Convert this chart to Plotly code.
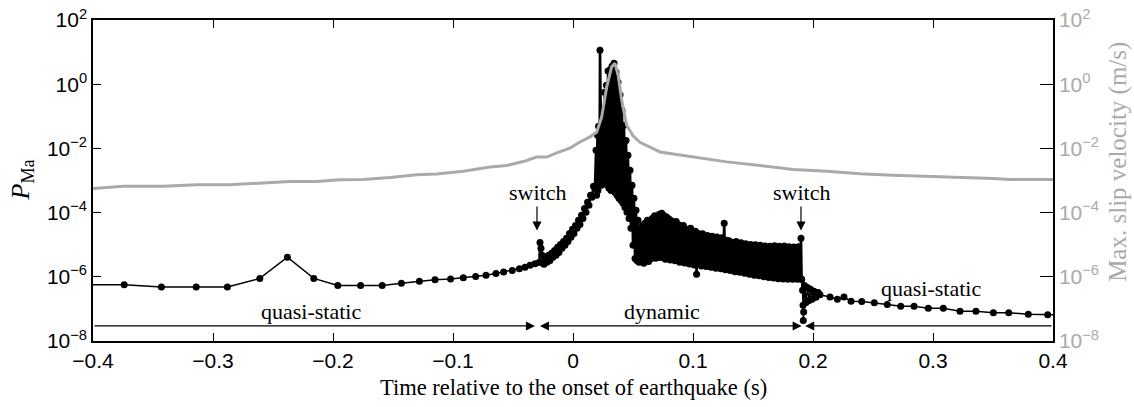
import plotly.graph_objects as go

# ---------------------------------------------------------------------------
# P_Ma (log10 values), split by solver phase
# ---------------------------------------------------------------------------
# quasi-static phase before the earthquake (last sample = switch point)
t_qs_before = [-0.41, -0.374, -0.343, -0.314, -0.288, -0.261, -0.238, -0.216,
               -0.196, -0.177, -0.159, -0.143, -0.128, -0.115, -0.102, -0.0914,
               -0.0811, -0.0725, -0.0642, -0.0578, -0.0506, -0.0447, -0.040,
               -0.0358, -0.0317, -0.0279]
log_p_qs_before = [-6.25, -6.25, -6.32, -6.32, -6.32, -6.05, -5.39, -6.05,
                   -6.27, -6.27, -6.27, -6.20, -6.14, -6.09, -6.07, -6.03,
                   -5.99, -5.95, -5.90, -5.85, -5.80, -5.75, -5.70,
                   -5.64, -5.59, -5.55]

# dynamic phase: nucleation, main rupture, and the oscillating aftermath
t_dynamic = [
    -0.0279, -0.0275, -0.0267, -0.0258, -0.0250, -0.0242, -0.0229, -0.0217, -0.0204, -0.0192,
    -0.0179, -0.0167, -0.0154, -0.0142, -0.0129, -0.0117, -0.0104, -0.0092, -0.0079, -0.0067,
    -0.0054, -0.0042, -0.0029, -0.0017, -0.0004, 0.0008, 0.0021, 0.0033, 0.0046, 0.0058,
    0.0071, 0.0083, 0.0096, 0.0108, 0.0121, 0.0133, 0.0146, 0.0158, 0.0171, 0.0183,
    0.0192, 0.0196, 0.0204, 0.0208, 0.0213, 0.0221, 0.0225, 0.0229, 0.0238, 0.0246,
    0.0254, 0.0263, 0.0271, 0.0279, 0.0288, 0.0292, 0.0300, 0.0308, 0.0317, 0.0325,
    0.0333, 0.0342, 0.0350, 0.0358, 0.0367, 0.0375, 0.0383, 0.0392, 0.0400, 0.0408,
    0.0417, 0.0425, 0.0433, 0.0442, 0.0450, 0.0458, 0.0467, 0.0475, 0.0483, 0.0492,
    0.0500, 0.0508, 0.0517, 0.0525, 0.0533, 0.0542,
    0.055, 0.056, 0.057, 0.058, 0.059, 0.060, 0.061, 0.062, 0.063, 0.064,
    0.065, 0.066, 0.067, 0.068, 0.069, 0.070, 0.071, 0.072, 0.073, 0.074,
    0.075, 0.076, 0.077, 0.078, 0.079, 0.080, 0.081, 0.082, 0.083, 0.084,
    0.085, 0.086, 0.087, 0.088, 0.089, 0.090, 0.091, 0.092, 0.093, 0.094,
    0.095, 0.096, 0.097, 0.098, 0.099, 0.100, 0.101, 0.102, 0.103, 0.104,
    0.105, 0.106, 0.107, 0.108, 0.109, 0.110, 0.111, 0.112, 0.113, 0.114,
    0.115, 0.116, 0.117, 0.118, 0.119, 0.120, 0.121, 0.122, 0.123, 0.124,
    0.125, 0.126, 0.127, 0.128, 0.129, 0.130, 0.131, 0.132, 0.133, 0.134,
    0.135, 0.136, 0.137, 0.138, 0.139, 0.140, 0.141, 0.142, 0.143, 0.144,
    0.145, 0.146, 0.147, 0.148, 0.149, 0.150, 0.151, 0.152, 0.153, 0.154,
    0.155, 0.156, 0.157, 0.158, 0.159, 0.160, 0.161, 0.162, 0.163, 0.164,
    0.165, 0.166, 0.167, 0.168, 0.169, 0.170, 0.171, 0.172, 0.173, 0.174,
    0.175, 0.176, 0.177, 0.178, 0.179, 0.180, 0.181, 0.182, 0.183, 0.184,
    0.185, 0.186, 0.187, 0.188, 0.189, 0.190, 0.1905,
]
log_p_dynamic = [
    -5.55, -4.93, -5.11, -5.33, -5.55, -5.61, -5.39, -5.55, -5.33, -5.49,
    -5.27, -5.39, -5.18, -5.33, -5.08, -5.24, -4.99, -5.11, -4.90, -5.02,
    -4.80, -4.90, -4.65, -4.77, -4.52, -4.65, -4.40, -4.49, -4.24, -4.37,
    -4.08, -4.18, -3.87, -3.99, -3.68, -3.77, -3.46, -3.52, -3.18, -3.24,
    -2.06, -3.46, -1.59, -3.31, -1.31, -3.15, 1.06, -1.43, -3.15, -0.81,
    -3.06, -0.25, -2.99, -0.03, -3.15, 0.41, -3.24, 0.44, -3.31, 0.56,
    -3.31, 0.65, -3.37, 0.37, -3.46, 0.06, -3.55, -0.34, -3.62, -0.81,
    -3.71, -1.28, -3.84, -1.75, -3.99, -2.21, -4.18, -2.68, -4.49, -3.15,
    -5.02, -3.55, -5.43, -3.93, -5.49, -4.24,
    -5.55, -4.52, -5.50, -4.40, -5.58, -4.33, -5.46, -4.24, -5.52, -4.30,
    -5.44, -4.18, -5.36, -4.10, -5.42, -4.15, -5.33, -4.05, -5.40, -4.02,
    -5.36, -4.10, -5.45, -4.14, -5.38, -4.20, -5.48, -4.25, -5.41, -4.31,
    -5.50, -4.28, -5.46, -4.38, -5.55, -4.43, -5.50, -4.40, -5.57, -4.51,
    -5.49, -4.55, -5.60, -4.49, -5.54, -4.60, -5.63, -4.58, -5.92, -4.64,
    -5.57, -4.70, -5.66, -4.66, -5.60, -4.74, -5.68, -4.71, -5.62, -4.78,
    -5.70, -4.74, -5.65, -4.80, -5.73, -4.76, -5.68, -4.82, -5.75, -4.78,
    -5.70, -4.33, -5.78, -4.86, -5.72, -4.88, -5.80, -4.92, -5.76, -4.95,
    -5.84, -4.90, -5.79, -4.98, -5.86, -4.94, -5.81, -5.00, -5.89, -4.97,
    -5.84, -5.03, -5.92, -4.99, -5.88, -5.05, -5.95, -5.00, -5.90, -5.07,
    -5.97, -5.02, -5.93, -5.08, -6.00, -5.04, -5.95, -5.10, -6.02, -5.05,
    -5.97, -5.09, -6.04, -5.03, -6.00, -5.08, -6.06, -5.05, -6.01, -5.10,
    -6.07, -5.04, -6.03, -5.09, -6.08, -5.06, -6.04, -5.11, -6.08, -5.07,
    -6.05, -5.10, -6.08, -5.06, -6.06, -4.80, -6.08,
]

# quasi-static phase after the earthquake (first sample = switch point)
t_qs_after = [0.1905, 0.1913, 0.1917, 0.1919, 0.1922, 0.1929, 0.1942, 0.1954,
              0.1967, 0.1979, 0.1992, 0.2008, 0.2025, 0.2042, 0.2058, 0.2142,
              0.2203, 0.2258, 0.2317, 0.2406, 0.2511, 0.2619, 0.2731, 0.2842,
              0.2961, 0.3086, 0.3225, 0.3358, 0.3503, 0.3631, 0.3794, 0.3956, 0.41]
log_p_qs_after = [-6.08, -6.42, -6.89, -7.36, -7.10, -6.27, -6.80, -6.33,
                  -6.74, -6.39, -6.70, -6.45, -6.64, -6.49, -6.56, -6.63,
                  -6.70, -6.63, -6.76, -6.77, -6.81, -6.86, -6.92, -6.92,
                  -6.98, -6.98, -7.07, -7.07, -7.12, -7.12, -7.17, -7.18, -7.19]

# ---------------------------------------------------------------------------
# Maximum slip velocity (log10 m/s)
# ---------------------------------------------------------------------------
t_slip = [-0.40, -0.3748, -0.3414, -0.3136, -0.2858, -0.2581, -0.2358, -0.2136,
          -0.1942, -0.1748, -0.1525, -0.1303, -0.1136, -0.0914, -0.0692, -0.0553,
          -0.0414, -0.0303, -0.0219, -0.0136, -0.0025, 0.0058, 0.0142, 0.0198,
          0.0239, 0.0281, 0.0322, 0.0350, 0.0378, 0.0406, 0.0447, 0.0503,
          0.0558, 0.0725, 0.0892, 0.1003, 0.1281, 0.1558, 0.1836, 0.2114,
          0.2392, 0.2669, 0.2947, 0.3225, 0.3503, 0.3642, 0.40]
log_v_slip = [-3.25, -3.18, -3.18, -3.13, -3.13, -3.07, -3.03, -3.03,
              -2.98, -2.97, -2.91, -2.82, -2.80, -2.71, -2.58, -2.53,
              -2.41, -2.27, -2.27, -2.14, -1.99, -1.80, -1.64, -1.49,
              -1.02, -0.08, 0.54, 0.65, 0.25, -0.50, -1.28, -1.62,
              -1.81, -2.11, -2.21, -2.27, -2.42, -2.53, -2.66, -2.71,
              -2.79, -2.84, -2.87, -2.91, -2.94, -2.97, -2.97]

# phase boundaries (s) and labels
t_switch_1 = -0.030
t_switch_2 = 0.1905
phase_labels = ["quasi-static", "dynamic", "quasi-static"]

# log-axis ticks
y_tick_exponents = [-8, -6, -4, -2, 0, 2]

BLACK = "#000000"
GRAY = "#aaaaaa"
SERIF = "Liberation Serif, Times New Roman, serif"
SANS = "Liberation Sans, Arial, Helvetica, sans-serif"


def pow10(vals):
    return [10 ** v for v in vals]


y_tickvals = pow10(y_tick_exponents)
y_ticktext = ["10<sup>%s</sup>" % (str(e).replace("-", "\u2212")) for e in y_tick_exponents]

fig = go.Figure()

marker = dict(size=7, color=BLACK)
fig.add_trace(go.Scatter(x=t_qs_before, y=pow10(log_p_qs_before), mode="lines+markers",
                         line=dict(color=BLACK, width=1.5), marker=marker, yaxis="y"))
fig.add_trace(go.Scatter(x=t_dynamic, y=pow10(log_p_dynamic), mode="lines+markers",
                         line=dict(color=BLACK, width=2.6), marker=marker, yaxis="y"))
fig.add_trace(go.Scatter(x=t_qs_after, y=pow10(log_p_qs_after), mode="lines+markers",
                         line=dict(color=BLACK, width=1.5), marker=marker, yaxis="y"))
fig.add_trace(go.Scatter(x=t_slip, y=pow10(log_v_slip), mode="lines",
                         line=dict(color=GRAY, width=3), yaxis="y2"))

# phase arrows along the bottom of the axes
y_arrow = -7.53
arrow_style = dict(showarrow=True, arrowhead=2, arrowsize=1.5, arrowwidth=1.2,
                   arrowcolor=BLACK, text="", xref="x", yref="y", axref="x", ayref="y")
fig.add_annotation(x=t_switch_1 - 0.0017, y=y_arrow, ax=-0.4, ay=y_arrow, **arrow_style)
fig.add_annotation(x=t_switch_2, y=y_arrow, ax=t_switch_1 + 0.0012, ay=y_arrow,
                   arrowside="end+start", **arrow_style)
fig.add_annotation(x=t_switch_2 + 0.003, y=y_arrow, ax=0.4, ay=y_arrow, **arrow_style)

# phase labels
label_font = dict(family=SERIF, size=22, color=BLACK)
fig.add_annotation(x=-0.218, y=-7.08, text=phase_labels[0], showarrow=False, font=label_font)
fig.add_annotation(x=0.0738, y=-7.08, text=phase_labels[1], showarrow=False, font=label_font)
fig.add_annotation(x=0.298, y=-6.36, text=phase_labels[2], showarrow=False, font=label_font)

# "switch" markers
for ts in (t_switch_1, t_switch_2 - 0.0005):
    fig.add_annotation(x=ts, y=-4.56, ax=0, ay=-38, text="switch", showarrow=True,
                       arrowhead=2, arrowsize=1.5, arrowwidth=1.2, arrowcolor=BLACK,
                       font=label_font, xref="x", yref="y")

# axis titles
fig.add_annotation(xref="paper", yref="paper", x=0.5, y=-0.146,
                   xanchor="center", yanchor="middle",
                   text="Time relative to the onset of earthquake (s)", showarrow=False,
                   font=dict(family=SERIF, size=22.5, color=BLACK))
fig.add_annotation(xref="paper", yref="paper", x=-0.075, y=0.50,
                   xanchor="center", yanchor="middle",
                   text="<i>P</i><sub>Ma</sub>", showarrow=False, textangle=-90,
                   font=dict(family=SERIF, size=26, color=BLACK))
fig.add_annotation(xref="paper", yref="paper", x=1.0677, y=0.558,
                   xanchor="center", yanchor="middle",
                   text="Max. slip velocity (m/s)", showarrow=False, textangle=-90,
                   font=dict(family=SERIF, size=25, color=GRAY))

tick_font = dict(family=SANS, size=21, color=BLACK)
fig.update_layout(
    width=1134, height=407,
    margin=dict(l=93, r=81, t=20, b=66, autoexpand=False),
    paper_bgcolor="white", plot_bgcolor="white", showlegend=False,
    xaxis=dict(range=[-0.4, 0.4], dtick=0.1, tick0=0, ticks="inside", ticklen=8,
               tickwidth=1, tickcolor=BLACK, showline=True, linecolor=BLACK,
               linewidth=1.5, mirror="ticks", showgrid=False, zeroline=False,
               tickfont=tick_font),
    yaxis=dict(type="log", range=[-8, 2], tickvals=y_tickvals, ticktext=y_ticktext,
               ticks="inside", ticklen=8, tickwidth=1, tickcolor=BLACK,
               showline=True, linecolor=BLACK, linewidth=1.5, showgrid=False,
               zeroline=False, tickfont=tick_font),
    yaxis2=dict(type="log", range=[-8, 2], tickvals=y_tickvals, ticktext=y_ticktext,
                overlaying="y", side="right", ticks="inside", ticklen=13,
                tickwidth=1, tickcolor=BLACK, showline=True, linecolor=BLACK,
                linewidth=1.5, showgrid=False, zeroline=False,
                tickfont=dict(family=SANS, size=21, color=GRAY)),
)

fig.write_html("out.html")
